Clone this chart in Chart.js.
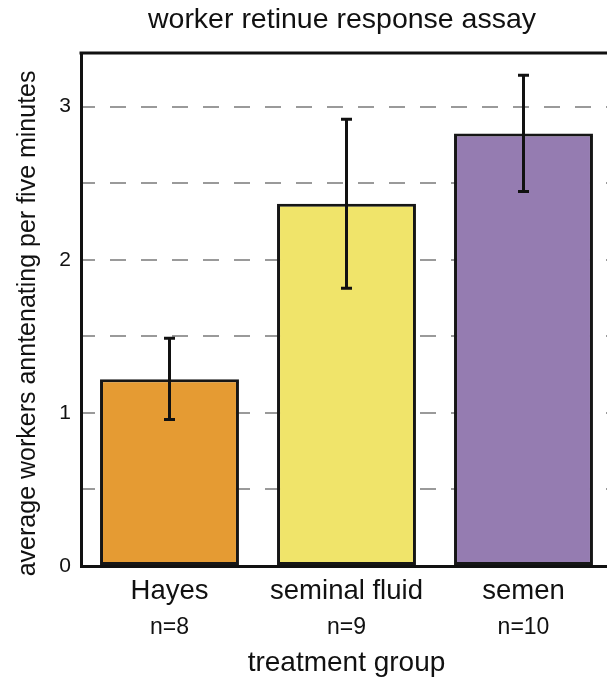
<!DOCTYPE html>
<html><head><meta charset="utf-8">
<script src="https://cdn.jsdelivr.net/npm/chart.js@4/dist/chart.umd.min.js"></script>
<style>html,body{margin:0;padding:0;overflow:hidden;background:#fff}#wrap{width:612px;height:680px}</style>
</head><body><div id="wrap"><canvas id="c" width="612" height="680"></canvas></div>
<script>
const chartTitle = 'worker retinue response assay';
const categories = ['Hayes', 'seminal fluid', 'semen'];
const sampleSizes = ['n=8', 'n=9', 'n=10'];
const means = [1.22, 2.365, 2.825];
const errLow = [0.957, 1.814, 2.445];
const errHigh = [1.487, 2.918, 3.205];
const barColors = ['#E59B33', '#F0E46A', '#957CB1'];
const yTickValues = [0, 0.5, 1, 1.5, 2, 2.5, 3];
const yLabelValues = [0, 1, 2, 3];

const FAM = '"Liberation Sans", Arial, Helvetica, sans-serif';

const extras = {
  id: 'extras',
  afterDatasetsDraw(chart) {
    const ctx = chart.ctx, ca = chart.chartArea, y = chart.scales.y;
    const meta = chart.getDatasetMeta(0);
    ctx.save();
    ctx.strokeStyle = '#111';
    ctx.lineWidth = 3;
    ctx.setLineDash([]);
    meta.data.forEach((bar, i) => {
      const x = bar.x;
      const yl = y.getPixelForValue(errLow[i]);
      const yh = y.getPixelForValue(errHigh[i]);
      ctx.beginPath();
      ctx.moveTo(x, yl); ctx.lineTo(x, yh);
      ctx.moveTo(x - 5.5, yl); ctx.lineTo(x + 5.5, yl);
      ctx.moveTo(x - 5.5, yh); ctx.lineTo(x + 5.5, yh);
      ctx.stroke();
    });
    ctx.beginPath();
    ctx.moveTo(ca.left - 1.5, ca.top);
    ctx.lineTo(chart.width, ca.top);
    ctx.stroke();
    ctx.fillStyle = '#111';
    ctx.font = '28.5px ' + FAM;
    ctx.textAlign = 'center';
    ctx.textBaseline = 'alphabetic';
    ctx.fillText(chartTitle, 342, 28);
    ctx.restore();
  }
};

new Chart(document.getElementById('c'), {
  type: 'bar',
  data: {
    labels: categories,
    datasets: [{
      data: means,
      backgroundColor: barColors,
      borderColor: '#161616',
      borderWidth: 3,
      borderSkipped: false,
      categoryPercentage: 1,
      barPercentage: 0.785
    }]
  },
  options: {
    responsive: false,
    animation: false,
    layout: { padding: { top: 53, left: 0, right: 0, bottom: 0 } },
    plugins: { legend: { display: false }, tooltip: { enabled: false }, title: { display: false } },
    scales: {
      x: {
        grid: { display: false, drawTicks: false },
        border: { color: '#111', width: 3 },
        ticks: { color: '#111', font: { size: 27.5, family: FAM }, padding: 9 },
        afterFit(s) { s.height = 43; }
      },
      x2: {
        type: 'category',
        labels: sampleSizes,
        offset: true,
        position: 'bottom',
        grid: { display: false, drawTicks: false },
        border: { display: false },
        ticks: { color: '#111', font: { size: 23, family: FAM }, padding: 5 },
        title: { display: true, text: 'treatment group', color: '#111', font: { size: 28, family: FAM }, padding: { top: 0, bottom: 0 } },
        afterFit(s) { s.height = 71; }
      },
      y: {
        min: 0,
        max: 3.35,
        afterBuildTicks(s) { s.ticks = yTickValues.map(v => ({ value: v })); },
        grid: { color: '#9a9a9a', lineWidth: 2, drawTicks: false },
        border: { color: '#111', width: 3, dash: [16, 15], dashOffset: 4 },
        ticks: {
          color: '#111',
          font: { size: 21, family: FAM },
          padding: 10,
          callback(v) { return yLabelValues.includes(v) ? String(v) : ''; }
        },
        title: { display: true, text: 'average workers anntenating per five minutes    ', color: '#111', font: { size: 25, family: FAM }, padding: { top: 13, bottom: 0 } },
        afterFit(s) { s.width = 81; }
      }
    }
  },
  plugins: [extras]
});
</script>
</body></html>
